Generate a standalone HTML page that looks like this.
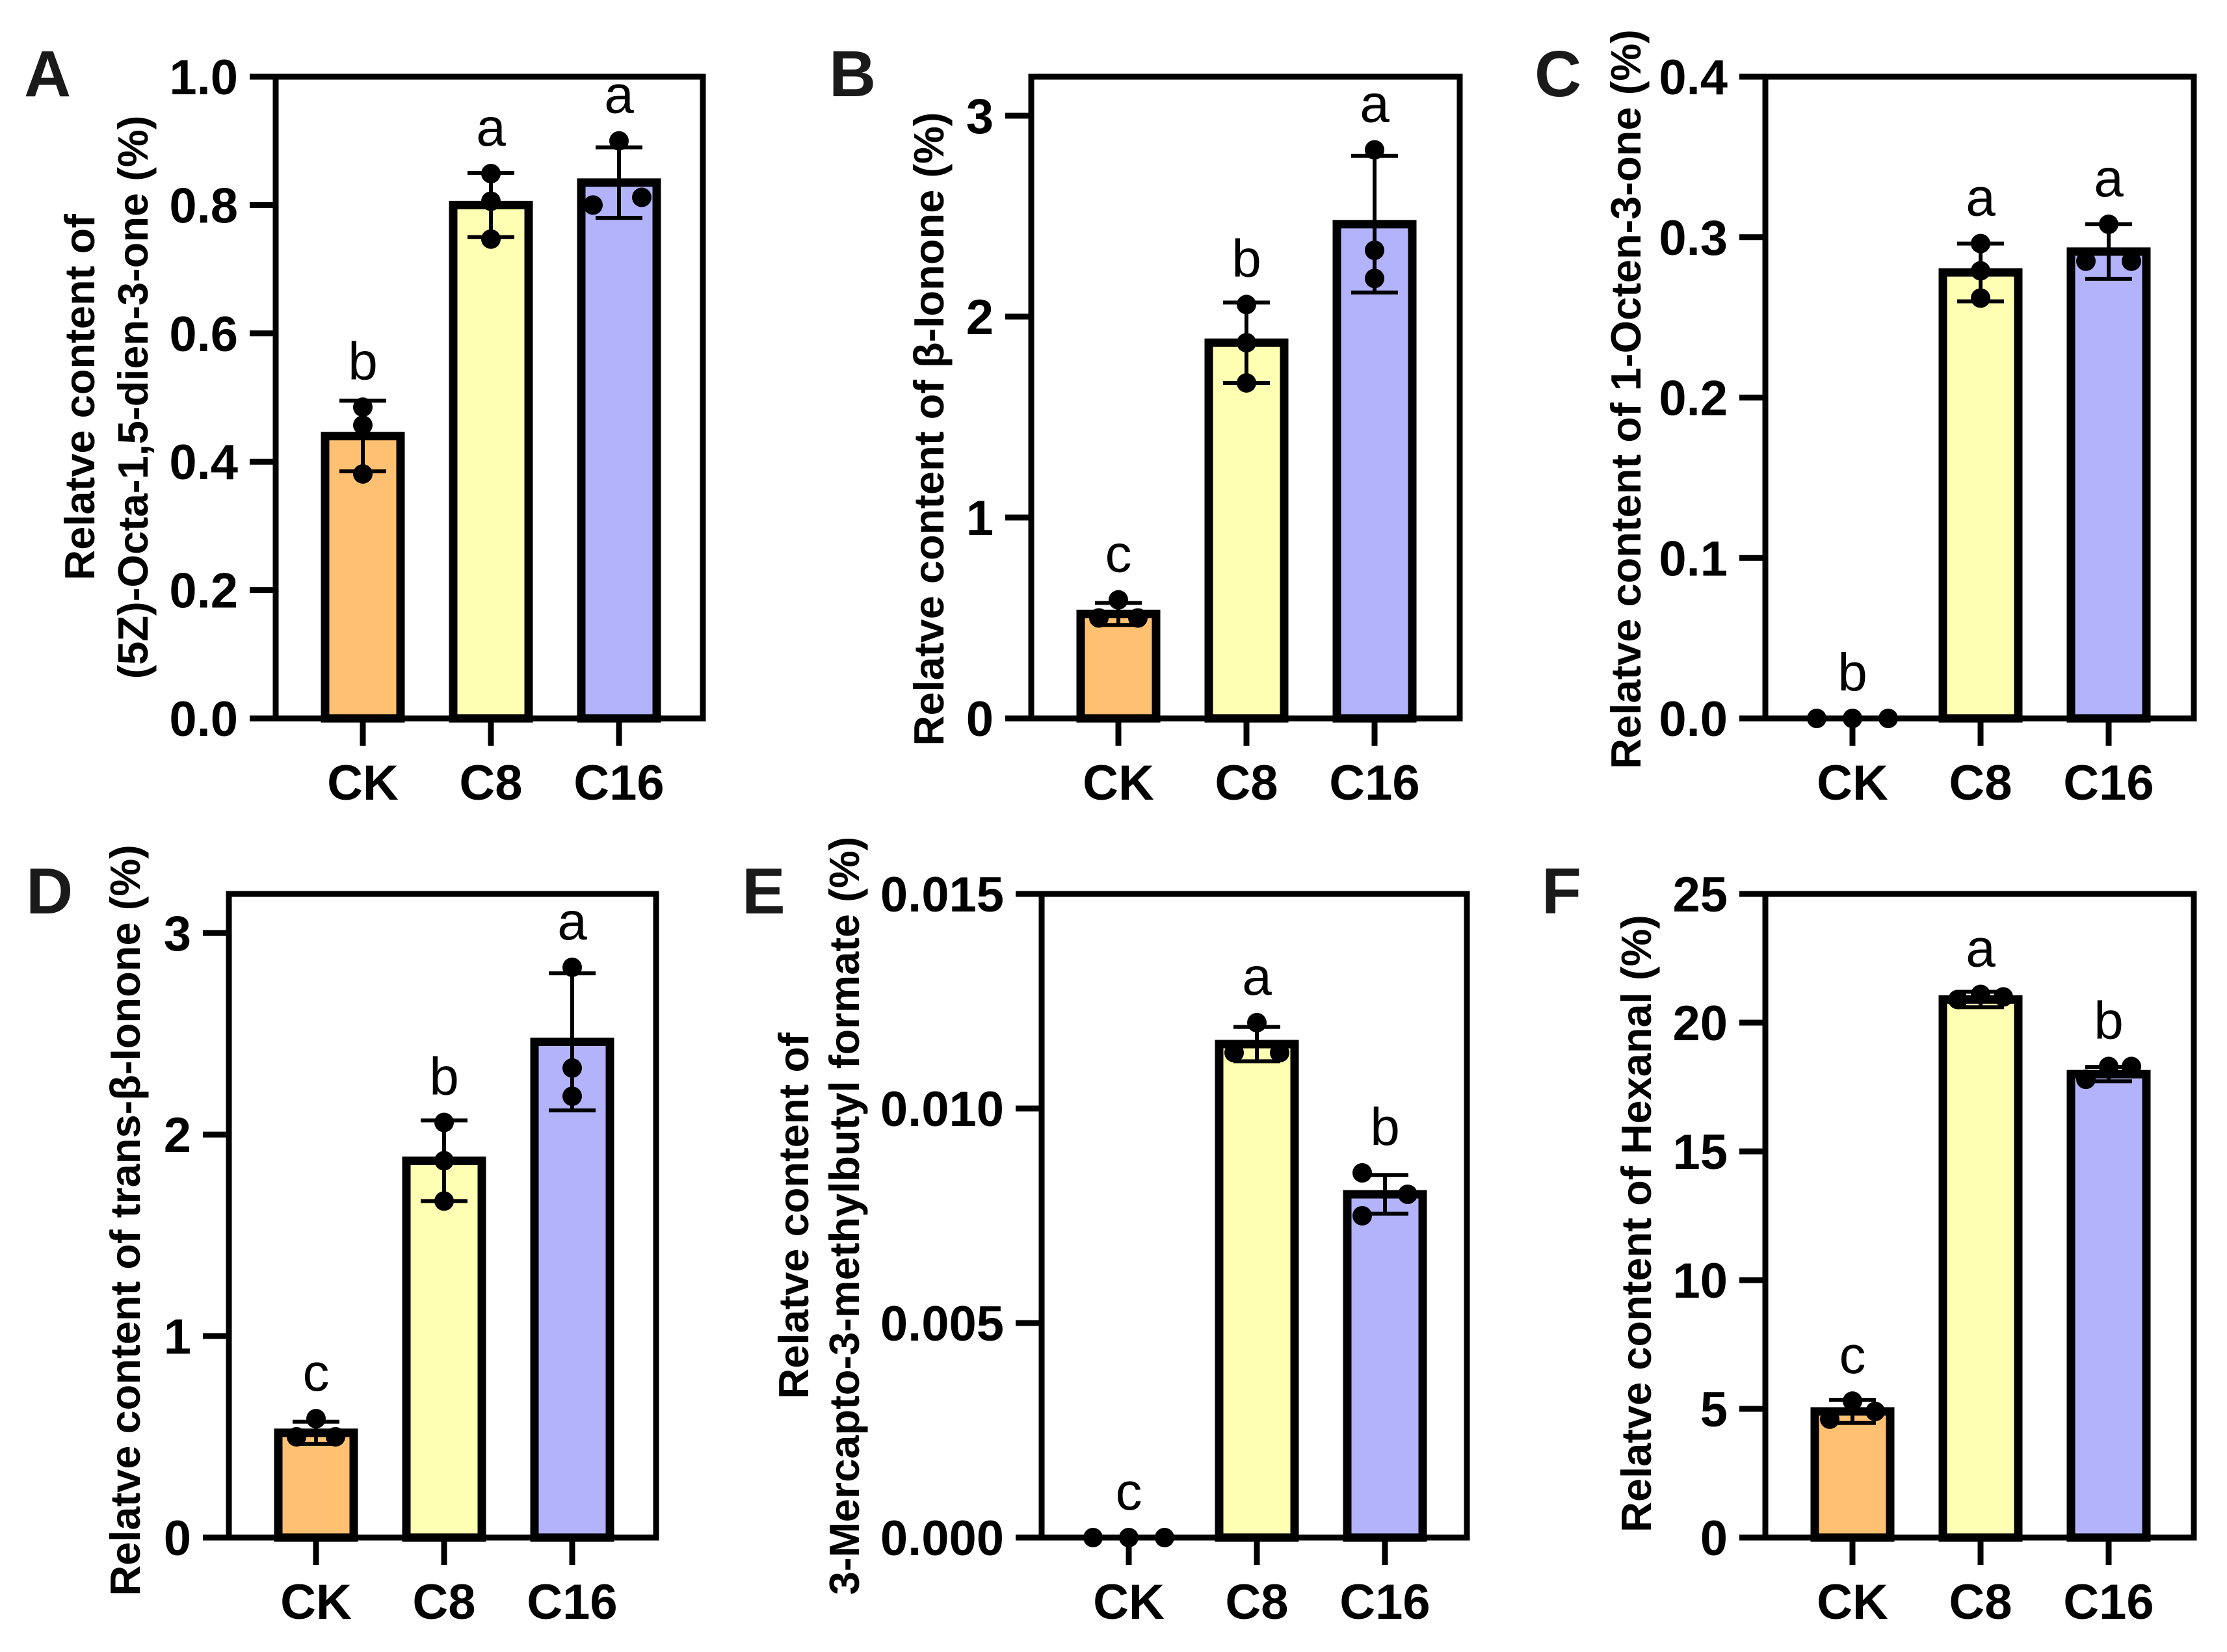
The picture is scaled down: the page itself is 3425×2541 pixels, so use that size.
<!DOCTYPE html>
<html><head><meta charset="utf-8">
<style>
html,body{margin:0;padding:0;background:#fff;}
svg{display:block;}
text{font-family:"Liberation Sans",Arial,sans-serif;}
</style></head>
<body>
<svg id="fig" width="3425" height="2541" viewBox="0 0 3425 2541" xmlns="http://www.w3.org/2000/svg">
<rect width="3425" height="2541" fill="#fff"/>
</svg>
<script>
const categories = ["CK","C8","C16"];
const colors = ["#FFC072","#FFFFB3","#B3B3FB"];

const meansA = [0.44,0.80,0.835];
const sdA = [0.055,0.05,0.055];
const ptsA = [[0.485,0.457,0.381],[0.849,0.806,0.747],[0.90,0.80,0.812]];
const lettersA = ["b","a","a"];
const ticksA = ["0.0","0.2","0.4","0.6","0.8","1.0"];

const meansB = [0.52,1.87,2.46];
const sdB = [0.055,0.2,0.34];
const ptsB = [[0.59,0.50,0.50],[2.06,1.87,1.67],[2.83,2.33,2.19]];
const lettersB = ["c","b","a"];
const ticksB = ["0","1","2","3"];

const meansC = [0,0.278,0.291];
const sdC = [0,0.018,0.017];
const ptsC = [[0,0,0],[0.296,0.279,0.262],[0.308,0.285,0.285]];
const lettersC = ["b","a","a"];
const ticksC = ["0.0","0.1","0.2","0.3","0.4"];

const meansD = [0.52,1.87,2.46];
const sdD = [0.055,0.2,0.34];
const ptsD = [[0.59,0.50,0.50],[2.06,1.87,1.67],[2.83,2.33,2.19]];
const lettersD = ["c","b","a"];
const ticksD = ["0","1","2","3"];

const meansE = [0,0.0115,0.0080];
const sdE = [0,0.0004,0.00045];
const ptsE = [[0,0,0],[0.0120,0.0113,0.0113],[0.0085,0.0080,0.0075]];
const lettersE = ["c","a","b"];
const ticksE = ["0.000","0.005","0.010","0.015"];

const meansF = [4.9,20.9,18.0];
const sdF = [0.45,0.3,0.28];
const ptsF = [[5.3,4.6,4.9],[20.9,21.1,21.0],[17.8,18.3,18.3]];
const lettersF = ["c","a","b"];
const ticksF = ["0","5","10","15","20","25"];

// jitter offsets (layout, px)
const jit = {
 A:[[0,0,0],[0,0,0],[0,-40,35]],
 B:[[0,-30,30],[0,0,0],[0,0,0]],
 C:[[-55,0,55],[0,0,0],[0,-35,35]],
 D:[[0,-30,30],[0,0,0],[0,0,0]],
 E:[[-55,0,55],[0,-35,35],[-35,35,-35]],
 F:[[0,-35,35],[-35,0,35],[-35,0,35]]
};

const panels = [
 {id:"A",L:424,R:1081,T:118,B:1105,max:1.0,step:0.2,ticks:ticksA,m:meansA,sd:sdA,p:ptsA,let:lettersA,
  title:["Relatve content of","(5Z)-Octa-1,5-dien-3-one (%)"],tx:[122,204],ty:611,lx:37},
 {id:"B",L:1586,R:2245,T:118,B:1105,max:3.194,step:1,ticks:ticksB,m:meansB,sd:sdB,p:ptsB,let:lettersB,
  title:["Relatve content of β-Ionone (%)"],tx:[1428],ty:660,lx:1275},
 {id:"C",L:2715,R:3374,T:118,B:1105,max:0.4,step:0.1,ticks:ticksC,m:meansC,sd:sdC,p:ptsC,let:lettersC,
  title:["Relatve content of 1-Octen-3-one (%)"],tx:[2500],ty:614,lx:2360},
 {id:"D",L:352,R:1009,T:1375,B:2365,max:3.194,step:1,ticks:ticksD,m:meansD,sd:sdD,p:ptsD,let:lettersD,
  title:["Relatve content of trans-β-Ionone (%)"],tx:[192],ty:1877,lx:40},
 {id:"E",L:1602,R:2256,T:1375,B:2365,max:0.015,step:0.005,ticks:ticksE,m:meansE,sd:sdE,p:ptsE,let:lettersE,
  title:["Relatve content of","3-Mercapto-3-methylbutyl formate (%)"],tx:[1220,1298],ty:1870,lx:1141},
 {id:"F",L:2715,R:3374,T:1375,B:2365,max:25,step:5,ticks:ticksF,m:meansF,sd:sdF,p:ptsF,let:lettersF,
  title:["Relatve content of Hexanal (%)"],tx:[2516],ty:1882,lx:2371}
];

const NS="http://www.w3.org/2000/svg";
const svg=document.getElementById("fig");
function mk(tag,attrs,parent){const e=document.createElementNS(NS,tag);for(const k in attrs)e.setAttribute(k,attrs[k]);(parent||svg).appendChild(e);return e;}

panels.forEach(P=>{
 const g=mk("g",{});
 
 
 const y=v=>P.B-(v/P.max)*(P.B-P.T);
 const x=i=>P.L+134+i*197;
 const pl=mk("text",{x:P.lx,y:P.T+30,"font-size":100,"font-weight":"bold",fill:"#1a1a1a"},g);
 pl.textContent=P.id;
 
 
 P.m.forEach((v,i)=>{
  if(v>0){
   const r=mk("rect",{x:x(i)-58,y:y(v),width:116,height:P.B-y(v),fill:colors[i],stroke:"#000","stroke-width":13},g);
   
   
  }
 });
 const fr=mk("rect",{x:P.L,y:P.T,width:P.R-P.L,height:P.B-P.T,fill:"none",stroke:"#000","stroke-width":9},g);
 
 
 P.ticks.forEach((t,k)=>{
  const yy=y(k*P.step);
  const tl=mk("line",{x1:P.L-40,x2:P.L,y1:yy,y2:yy,stroke:"#000","stroke-width":9},g);
  
  
  const tt=mk("text",{x:P.L-58,y:yy+27,"font-size":76,"font-weight":"bold","text-anchor":"end"},g);
  tt.textContent=t;
  
  
 });
 categories.forEach((c,i)=>{
  const xl=mk("line",{x1:x(i),x2:x(i),y1:P.B,y2:P.B+42,stroke:"#000","stroke-width":9},g);
  
  
  const xt=mk("text",{x:x(i),y:P.B+125,"font-size":76,"font-weight":"bold","text-anchor":"middle"},g);
  xt.textContent=c;
  
  
 });
 P.m.forEach((v,i)=>{
  let top=y(v);
  if(P.sd[i]>0){
   const hi=y(v+P.sd[i]), lo=y(v-P.sd[i]);
   const e=mk("path",{d:`M${x(i)} ${hi}V${lo}M${x(i)-36} ${hi}H${x(i)+36}M${x(i)-36} ${lo}H${x(i)+36}`,stroke:"#000","stroke-width":6,fill:"none"},g);
   
   
   top=Math.min(top,hi);
  }
  P.p[i].forEach((pv,j)=>{
   const c=mk("circle",{cx:x(i)+jit[P.id][i][j],cy:y(pv),r:15,fill:"#000"},g);
   
   
   top=Math.min(top,y(pv)-15);
  });
  const lt=mk("text",{x:x(i),y:top-28,"font-size":82,"text-anchor":"middle"},g);
  lt.textContent=P.let[i];
  
  
 });
 P.title.forEach((s,k)=>{
  const tx=P.tx[k]+23;
  const t=mk("text",{x:tx,y:P.ty,"font-size":65,"font-weight":"bold","text-anchor":"middle",transform:`rotate(-90 ${tx} ${P.ty})`},g);
  t.textContent=s;
  
  
 });
});
</script>
</body></html>
